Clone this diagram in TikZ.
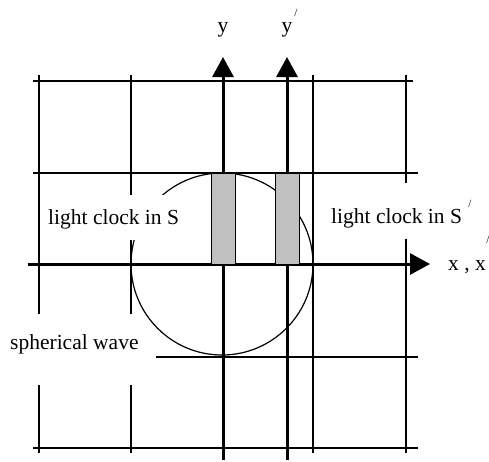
\documentclass[tikz,border=0pt]{standalone}
\usepackage{fontspec}
\setmainfont{Liberation Serif}
\usetikzlibrary{arrows.meta}
\definecolor{clockgray}{RGB}{192,192,192}
\begin{document}
\begin{tikzpicture}[x=1pt,y=-1pt,
  gridline/.style={line width=1.2pt},
  axisline/.style={line width=3pt,-{Triangle[length=20pt,width=21pt]}},
  clockbox/.style={draw,line width=1.2pt,fill=clockgray,inner sep=0pt,minimum width=24pt,minimum height=91pt,anchor=north west},
  lbl/.style={font=\fontsize{21.5}{24}\selectfont,inner sep=0pt},
  maskbox/.style={lbl,fill=white,inner xsep=4pt,inner ysep=8pt},
  primemark/.style={font=\fontsize{11}{12}\selectfont,inner sep=0pt}]
\useasboundingbox (0,0) rectangle (489,461);
% coordinates
\coordinate (h1a) at (33,81);   \coordinate (h1b) at (413,81);
\coordinate (h2a) at (33,173);  \coordinate (h2b) at (418,173);
\coordinate (h3a) at (156,357); \coordinate (h3b) at (418,357);
\coordinate (h4a) at (33,448);  \coordinate (h4b) at (418,448);
\coordinate (v1a) at (39,75);   \coordinate (v1b) at (39,453);
\coordinate (v2a) at (131,75);  \coordinate (v2b) at (131,453);
\coordinate (v3a) at (313,75);  \coordinate (v3b) at (313,453);
\coordinate (v4a) at (406,75);  \coordinate (v4b) at (406,453);
\coordinate (xa) at (28,264);   \coordinate (xb) at (430,264);
\coordinate (ya) at (223,460);  \coordinate (yb) at (223,57);
\coordinate (ypa) at (287,460); \coordinate (ypb) at (287,57);
\coordinate (wavecenter) at (222,264);
% grid
\draw[gridline] (h1a) -- (h1b);
\draw[gridline] (h2a) -- (h2b);
\draw[gridline] (h3a) -- (h3b);
\draw[gridline] (h4a) -- (h4b);
\draw[gridline] (v1a) -- (v1b);
\draw[gridline] (v2a) -- (v2b);
\draw[gridline] (v3a) -- (v3b);
\draw[gridline] (v4a) -- (v4b);
% spherical wave
\draw[gridline] (wavecenter) circle[radius=91pt];
% labels with white background
\node[maskbox,anchor=base west,text height=21pt,text depth=8pt] (lcS) at (44,224) {light clock in S};
\node[maskbox,anchor=base west,text height=32pt,text depth=8pt] (lcSp) at (327,223) {light clock in S};
\node[primemark] (lcSprime) at (470,204) {/};
\node[maskbox,anchor=base west,text height=27pt,text depth=28pt] (wave) at (6,349) {spherical wave};
% axes
\draw[axisline] (xa) -- (xb);
\draw[axisline] (ya) -- (yb);
\draw[axisline] (ypa) -- (ypb);
% light clocks
\node[clockbox] (clockS) at (211,173) {};
\node[clockbox] (clockSp) at (275,173) {};
% axis labels
\node[lbl,anchor=base] (ylab) at (223,32) {y};
\node[lbl,anchor=base] (yplab) at (287,32) {y};
\node[primemark] (yprime) at (296,13) {/};
\node[lbl,anchor=base west] (xlab) at (448,270) {x , x};
\node[primemark] (xprime) at (488,240) {/};
\end{tikzpicture}
\end{document}
